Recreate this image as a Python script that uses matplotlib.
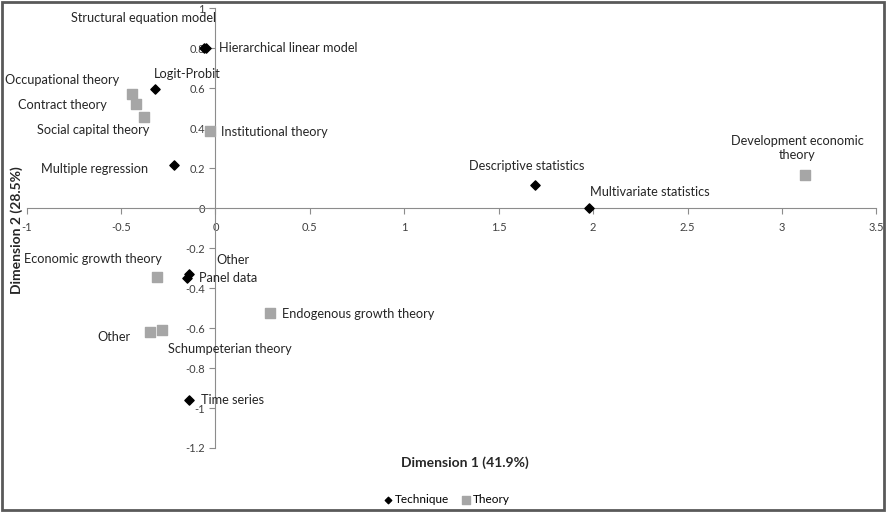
import matplotlib.pyplot as plt
from matplotlib.patches import Rectangle

plt.rcParams['font.family'] = ['Lato', 'DejaVu Sans']

# Technique points (black diamonds)
tech_names = ["Structural equation model", "Hierarchical linear model", "Logit-Probit",
              "Multiple regression", "Descriptive statistics", "Multivariate statistics",
              "Other", "Panel data", "Time series"]
tech_x = [-0.06, -0.05, -0.32, -0.22, 1.69, 1.98, -0.14, -0.15, -0.14]
tech_y = [0.80, 0.80, 0.595, 0.215, 0.115, 0.0, -0.33, -0.35, -0.96]

# Theory points (grey squares)
theo_names = ["Occupational theory", "Contract theory", "Social capital theory",
              "Institutional theory", "Development economic\ntheory", "Economic growth theory",
              "Endogenous growth theory", "Other", "Schumpeterian theory"]
theo_x = [-0.44, -0.42, -0.38, -0.03, 3.12, -0.31, 0.29, -0.345, -0.285]
theo_y = [0.57, 0.52, 0.455, 0.385, 0.165, -0.345, -0.527, -0.62, -0.61]

# label placement (x, y, ha) for each point
tech_lab = [(-0.38, 0.95, 'center'), (0.02, 0.80, 'left'), (-0.15, 0.67, 'center'),
            (-0.64, 0.195, 'center'), (1.65, 0.21, 'center'), (2.30, 0.08, 'center'),
            (0.095, -0.26, 'center'), (-0.085, -0.35, 'left'), (-0.075, -0.96, 'left')]
theo_lab = [(-0.81, 0.64, 'center'), (-0.81, 0.515, 'center'), (-0.65, 0.39, 'center'),
            (0.03, 0.38, 'left'), (3.08, 0.30, 'center'), (-0.65, -0.255, 'center'),
            (0.355, -0.53, 'left'), (-0.54, -0.645, 'center'), (0.074, -0.705, 'center')]

fig = plt.figure(figsize=(8.87, 5.12), dpi=100)
ax = fig.add_axes([0.030, 0.125, 0.958, 0.859])

ax.scatter(tech_x, tech_y, marker='D', s=22, color='black', label='Technique', zorder=3)
ax.scatter(theo_x, theo_y, marker='s', s=55, color='#a6a6a6', label='Theory', zorder=3)

for name, (lx, ly, ha) in zip(tech_names, tech_lab):
    ax.text(lx, ly, name, ha=ha, va='center', fontsize=9.2, color='#262626')
for name, (lx, ly, ha) in zip(theo_names, theo_lab):
    ax.text(lx, ly, name, ha=ha, va='center', fontsize=9.2, color='#262626',
            multialignment='center')

ax.set_xlim(-1, 3.5)
ax.set_ylim(-1.2, 1)
ax.set_xticks([-1, -0.5, 0, 0.5, 1, 1.5, 2, 2.5, 3, 3.5])
ax.set_xticklabels(['-1', '-0.5', '0', '0.5', '1', '1.5', '2', '2.5', '3', '3.5'])
ax.set_yticks([-1.2, -1, -0.8, -0.6, -0.4, -0.2, 0, 0.2, 0.4, 0.6, 0.8, 1])
ax.set_yticklabels(['-1.2', '-1', '-0.8', '-0.6', '-0.4', '-0.2', '0', '0.2', '0.4', '0.6', '0.8', '1'])

for side in ['top', 'right']:
    ax.spines[side].set_visible(False)
ax.spines['left'].set_position(('data', 0))
ax.spines['bottom'].set_position(('data', 0))
ax.spines['left'].set_color('#8c8c8c')
ax.spines['bottom'].set_color('#8c8c8c')
ax.tick_params(axis='both', colors='#8c8c8c', labelcolor='#404040', labelsize=8,
               length=4, direction='out')
ax.tick_params(axis='x', pad=6)

fig.text(0.524, 0.097, 'Dimension 1 (41.9%)', ha='center', va='center',
         fontsize=10, fontweight='bold', color='#262626')
fig.text(0.019, 0.55, 'Dimension 2 (28.5%)', ha='center', va='center', rotation=90,
         fontsize=10, fontweight='bold', color='#262626')

fig.legend(loc='center', bbox_to_anchor=(0.502, 0.024), ncol=2, frameon=False,
           fontsize=8.5, handletextpad=0.0, handlelength=1.2, columnspacing=0.8,
           markerscale=0.7)

fig.patches.append(Rectangle((0.002, 0.003), 0.995, 0.994, transform=fig.transFigure,
                             fill=False, edgecolor='#595959', linewidth=2))

fig.savefig('out.png', dpi=100)
